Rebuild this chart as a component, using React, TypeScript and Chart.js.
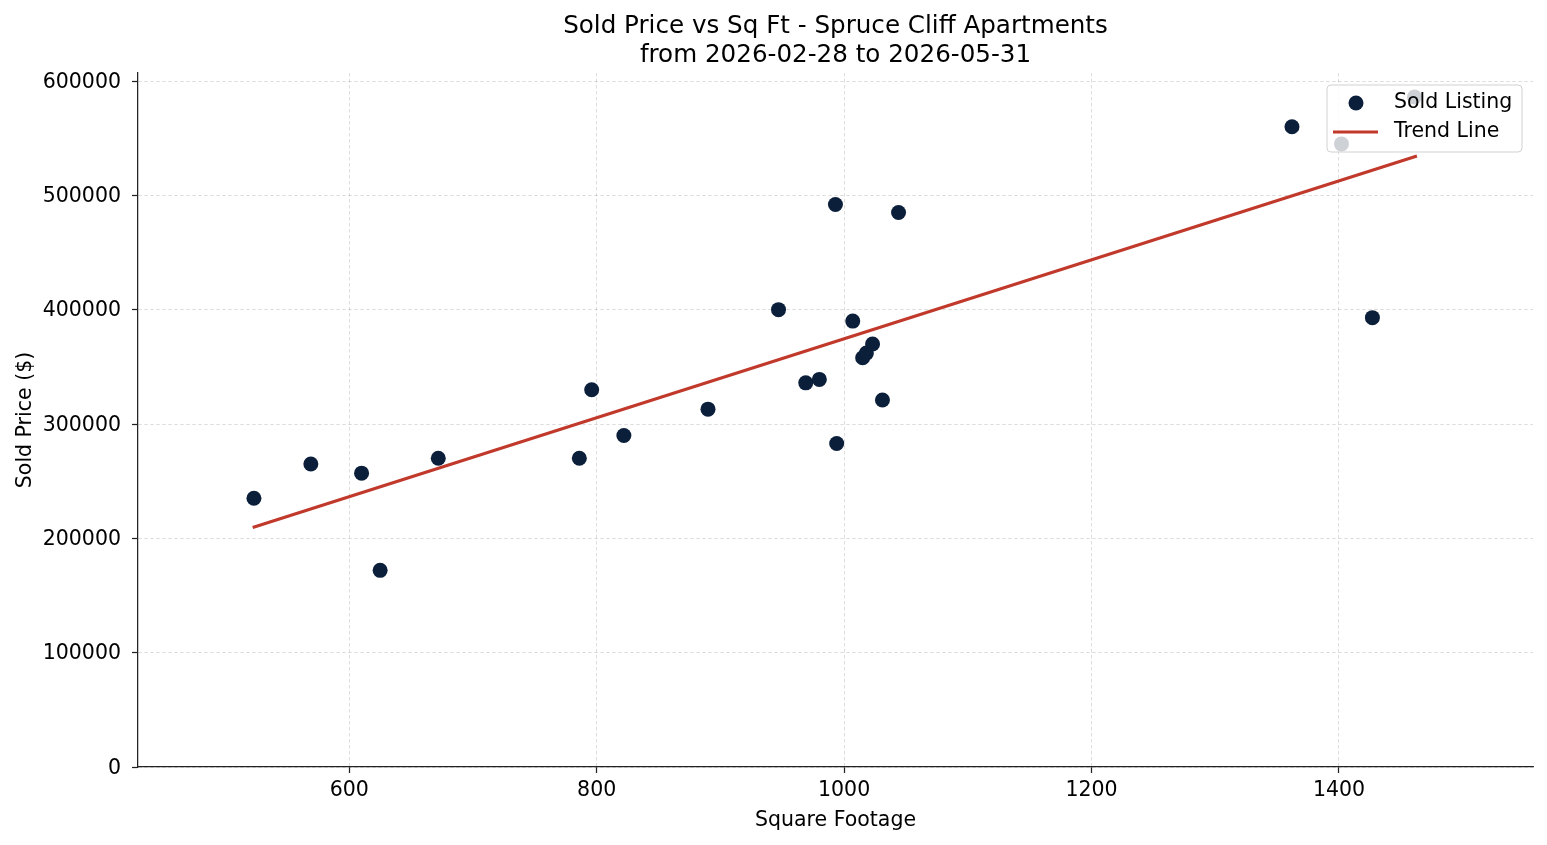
import { useEffect, useRef } from "react";
import { Chart, registerables } from "chart.js";

Chart.register(...registerables);

// Sold listings: square footage and sold price
const sqft = [523, 569, 610, 625, 672, 786, 796, 822, 890, 947, 969, 980, 993, 994, 1007, 1015, 1018, 1023, 1031, 1044, 1362, 1402, 1427, 1461];
const soldPrice = [235000, 265000, 257000, 172000, 270000, 270000, 330000, 290000, 313000, 400000, 336000, 339000, 492000, 283000, 390000, 358000, 362000, 370000, 321000, 485000, 560000, 545000, 393000, 586000];

// Fitted trend line end points
const trendSqft = [522, 1463];
const trendPrice = [209500, 534400];

const xTicks = [600, 800, 1000, 1200, 1400];
const yTicks = [0, 100000, 200000, 300000, 400000, 500000, 600000];

const titleLines = ["Sold Price vs Sq Ft - Spruce Cliff Apartments", "from 2026-02-28 to 2026-05-31"];
const xLabel = "Square Footage";
const yLabel = "Sold Price ($)";

const FONT = "'DejaVu Sans', sans-serif";
const BASE = 20.5;
const TITLE = 24.6;
const NAVY = "#0b1f3a";
const RED = "#c0392b";
const AXIS = "#222222";
const GRID = "rgba(0,0,0,0.17)";

const overlay = {
  id: "overlay",
  afterDraw(chart: any) {
    const { ctx, chartArea } = chart;
    const cx = (chartArea.left + chartArea.right) / 2;
    const cy = (chartArea.top + chartArea.bottom) / 2;
    ctx.save();
    ctx.fillStyle = "#000";
    ctx.textAlign = "center";
    ctx.textBaseline = "alphabetic";
    ctx.font = `${TITLE}px ${FONT}`;
    ctx.fillText(titleLines[0], cx, 33);
    ctx.fillText(titleLines[1], cx, 62);

    ctx.font = `${BASE}px ${FONT}`;
    ctx.fillText(xLabel, cx, 825.5);
    ctx.save();
    ctx.translate(30.5, cy);
    ctx.rotate(-Math.PI / 2);
    ctx.fillText(yLabel, 0, 0);
    ctx.restore();

    // legend box in the upper right corner
    const bx = 1327, by = 85, bw = 195, bh = 67, r = 4;
    ctx.beginPath();
    ctx.moveTo(bx + r, by);
    ctx.lineTo(bx + bw - r, by);
    ctx.quadraticCurveTo(bx + bw, by, bx + bw, by + r);
    ctx.lineTo(bx + bw, by + bh - r);
    ctx.quadraticCurveTo(bx + bw, by + bh, bx + bw - r, by + bh);
    ctx.lineTo(bx + r, by + bh);
    ctx.quadraticCurveTo(bx, by + bh, bx, by + bh - r);
    ctx.lineTo(bx, by + r);
    ctx.quadraticCurveTo(bx, by, bx + r, by);
    ctx.closePath();
    ctx.fillStyle = "rgba(255,255,255,0.8)";
    ctx.fill();
    ctx.strokeStyle = "rgba(204,204,204,0.9)";
    ctx.lineWidth = 1;
    ctx.stroke();

    const ds = chart.data.datasets;
    const scatterDs = ds.find((d: any) => d.type === "scatter");
    const lineDs = ds.find((d: any) => d.type === "line");

    ctx.fillStyle = NAVY;
    ctx.beginPath();
    ctx.arc(1356, 103, 7.5, 0, Math.PI * 2);
    ctx.fill();

    ctx.strokeStyle = RED;
    ctx.lineWidth = 3.2;
    ctx.beginPath();
    ctx.moveTo(1333, 132);
    ctx.lineTo(1378, 132);
    ctx.stroke();

    ctx.fillStyle = "#000";
    ctx.textAlign = "left";
    ctx.textBaseline = "middle";
    ctx.font = `${BASE}px ${FONT}`;
    ctx.fillText(scatterDs.label, 1394, 103);
    ctx.fillText(lineDs.label, 1394, 132);
    ctx.restore();
  },
};

export default function App() {
  const canvasRef = useRef<HTMLCanvasElement | null>(null);

  useEffect(() => {
    const canvas = canvasRef.current;
    if (!canvas) return;

    const points = sqft.map((x, i) => ({ x, y: soldPrice[i] }));
    const trend = trendSqft.map((x, i) => ({ x, y: trendPrice[i] }));

    const tickFont = { family: FONT, size: BASE };

    const chart = new Chart(canvas, {
      data: {
        datasets: [
          {
            type: "line",
            label: "Trend Line",
            data: trend,
            borderColor: RED,
            borderWidth: 3.2,
            pointRadius: 0,
            fill: false,
            order: 0,
          },
          {
            type: "scatter",
            label: "Sold Listing",
            data: points,
            backgroundColor: NAVY,
            borderWidth: 0,
            pointRadius: 7.5,
            pointHoverRadius: 7.5,
            order: 1,
          },
        ],
      } as any,
      options: {
        responsive: false,
        animation: false,
        devicePixelRatio: 1,
        layout: { padding: { top: 73, right: 14, bottom: 0, left: 0 } },
        plugins: {
          legend: { display: false },
          title: { display: false },
          tooltip: { enabled: false },
        },
        scales: {
          x: {
            type: "linear",
            min: 429.3,
            max: 1556.8,
            afterBuildTicks: (s: any) => {
              s.ticks = xTicks.map((v) => ({ value: v }));
            },
            afterFit: (s: any) => {
              s.height = 78;
            },
            ticks: {
              font: tickFont,
              color: "#000",
              padding: 5,
              callback: (v: any) => String(v),
            },
            grid: {
              color: GRID,
              lineWidth: 0.8,
              tickColor: AXIS,
              tickWidth: 1.25,
              tickLength: 6,
              tickBorderDash: [],
            },
            border: { display: true, color: AXIS, width: 1.25, dash: [3.5, 2.5] },
          },
          y: {
            type: "linear",
            min: 0,
            max: 607000,
            afterBuildTicks: (s: any) => {
              s.ticks = yTicks.map((v) => ({ value: v }));
            },
            afterFit: (s: any) => {
              s.width = 138;
            },
            ticks: {
              font: tickFont,
              color: "#000",
              padding: 11,
              labelOffset: 1.5,
              callback: (v: any) => String(v),
            },
            grid: {
              color: GRID,
              lineWidth: 0.8,
              tickColor: AXIS,
              tickWidth: 1.25,
              tickLength: 6,
              tickBorderDash: [],
            },
            border: { display: true, color: AXIS, width: 1.25, dash: [3.5, 2.5] },
          },
        },
      } as any,
      plugins: [overlay],
    });

    return () => chart.destroy();
  }, []);

  return (
    <div style={{ position: "fixed", left: 0, top: 0, width: 1547, height: 845, background: "#fff" }}>
      <canvas ref={canvasRef} width={1547} height={845} />
    </div>
  );
}
